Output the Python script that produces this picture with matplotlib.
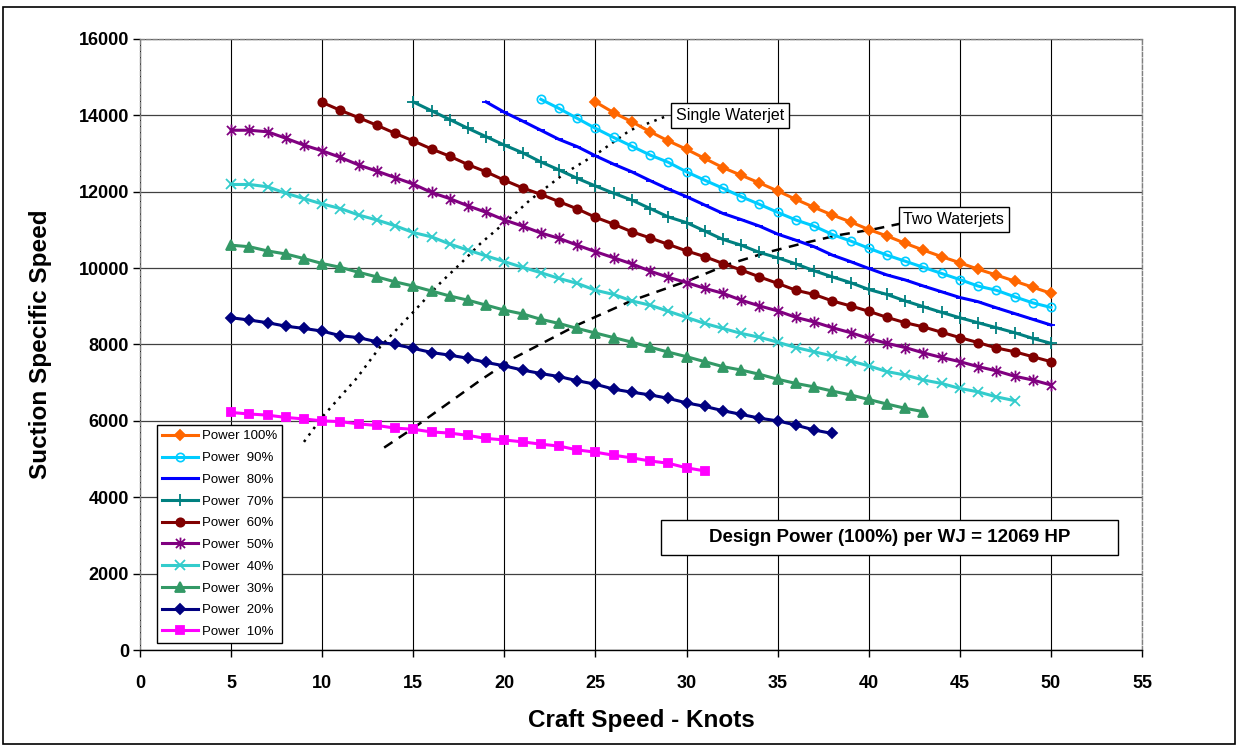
import matplotlib
matplotlib.use('Agg')
import matplotlib.pyplot as plt
from matplotlib.patches import Rectangle
from matplotlib.path import Path

plt.rcParams['font.family'] = ['Liberation Sans', 'DejaVu Sans']

# Datos: velocidad (nudos) y velocidad especifica de succion
knots_100 = list(range(25, 51))
power_100 = [14350, 14070, 13830, 13570, 13330, 13110, 12870, 12630, 12430, 12230,
             12020, 11800, 11590, 11390, 11210, 11010, 10840, 10650, 10470, 10300,
             10140, 9970, 9820, 9660, 9500, 9340]

knots_90 = list(range(22, 51))
power_90 = [14420, 14180, 13920, 13660, 13420, 13190, 12960, 12770, 12520, 12300,
            12090, 11870, 11670, 11460, 11260, 11100, 10880, 10710, 10520, 10340,
            10180, 10020, 9860, 9700, 9530, 9420, 9250, 9090, 8970]

knots_80 = list(range(19, 51))
power_80 = [14350, 14080, 13850, 13610, 13370, 13180, 12940, 12720, 12520, 12290,
            12070, 11870, 11650, 11430, 11270, 11100, 10890, 10730, 10560, 10340,
            10170, 9990, 9820, 9690, 9530, 9380, 9230, 9120, 8960, 8810, 8660, 8510]

knots_70 = list(range(15, 51))
power_70 = [14350, 14120, 13890, 13660, 13440, 13220, 13020, 12780, 12570, 12350,
            12150, 11960, 11780, 11560, 11340, 11190, 10970, 10750, 10600, 10410,
            10270, 10110, 9930, 9770, 9620, 9440, 9310, 9140, 8990, 8840, 8700,
            8570, 8440, 8310, 8160, 8030]

knots_60 = list(range(10, 51))
power_60 = [14340, 14130, 13940, 13740, 13530, 13330, 13120, 12930, 12710, 12520,
            12300, 12100, 11930, 11740, 11550, 11330, 11150, 10950, 10790, 10620,
            10450, 10300, 10120, 9950, 9770, 9600, 9420, 9310, 9140, 9010, 8870,
            8710, 8570, 8460, 8320, 8180, 8050, 7910, 7810, 7680, 7550]

knots_50 = list(range(5, 51))
power_50 = [13610, 13610, 13570, 13400, 13220, 13070, 12900, 12700, 12540, 12370,
            12200, 11980, 11820, 11630, 11460, 11260, 11100, 10920, 10780, 10600,
            10430, 10270, 10110, 9920, 9760, 9620, 9470, 9340, 9160, 9010, 8880,
            8710, 8590, 8440, 8310, 8160, 8030, 7920, 7780, 7660, 7550, 7420,
            7310, 7170, 7070, 6940]

knots_40 = list(range(5, 49))
power_40 = [12190, 12190, 12130, 11960, 11820, 11680, 11560, 11390, 11260, 11110,
            10930, 10820, 10630, 10470, 10320, 10170, 10020, 9880, 9730, 9600,
            9420, 9310, 9140, 9030, 8870, 8710, 8550, 8420, 8290, 8190, 8060,
            7920, 7810, 7700, 7570, 7440, 7290, 7200, 7070, 6980, 6850, 6760,
            6630, 6530]

knots_30 = list(range(5, 44))
power_30 = [10600, 10560, 10450, 10370, 10250, 10120, 10020, 9890, 9770, 9640,
            9530, 9400, 9270, 9160, 9030, 8900, 8800, 8660, 8550, 8420, 8300,
            8180, 8060, 7930, 7800, 7680, 7550, 7420, 7330, 7220, 7090, 6980,
            6890, 6780, 6680, 6560, 6440, 6330, 6240]

knots_20 = list(range(5, 39))
power_20 = [8700, 8640, 8570, 8480, 8420, 8350, 8230, 8180, 8070, 8000, 7900,
            7790, 7720, 7640, 7530, 7440, 7330, 7240, 7160, 7050, 6960, 6830,
            6750, 6680, 6590, 6470, 6380, 6265, 6170, 6070, 6000, 5890, 5760, 5670]

knots_10 = list(range(5, 32))
power_10 = [6220, 6180, 6150, 6090, 6050, 6000, 5980, 5920, 5880, 5810, 5780,
            5710, 5680, 5620, 5540, 5500, 5450, 5390, 5340, 5240, 5180, 5100,
            5030, 4950, 4890, 4770, 4690]

# Curvas de limite (una y dos bombas)
single_x = [9.0, 10.0, 11.9, 13.2, 15.0, 16.5, 17.6, 18.7, 20.2, 21.4, 23.3, 25.1, 26.9, 28.9]
single_y = [5450, 6100, 7120, 7950, 8850, 9620, 10120, 10650, 11260, 11780, 12480, 13000, 13610, 13980]

two_x = [13.4, 15.0, 18.7, 20.5, 24.0, 27.0, 30.2, 32.3, 34.4, 36.4, 38.3, 40.3, 41.8]
two_y = [5300, 5810, 7070, 7640, 8510, 9150, 9690, 10100, 10410, 10650, 10860, 11020, 11170]

# Marcador estrella tipo Excel (X con barra vertical)
star = Path([(-1, -1), (1, 1), (-1, 1), (1, -1), (0, -1.3), (0, 1.3)],
            [Path.MOVETO, Path.LINETO, Path.MOVETO, Path.LINETO, Path.MOVETO, Path.LINETO])

series = [
    ('Power 100%', knots_100, power_100, '#FF6600', 'D', 5.5, True),
    ('Power  90%', knots_90, power_90, '#00CCFF', 'o', 6, False),
    ('Power  80%', knots_80, power_80, '#0000FF', '_', 6, True),
    ('Power  70%', knots_70, power_70, '#008080', '+', 8, True),
    ('Power  60%', knots_60, power_60, '#800000', 'o', 6, True),
    ('Power  50%', knots_50, power_50, '#800080', star, 8.5, True),
    ('Power  40%', knots_40, power_40, '#33CCCC', 'x', 7, True),
    ('Power  30%', knots_30, power_30, '#339966', '^', 7, True),
    ('Power  20%', knots_20, power_20, '#000080', 'D', 5.5, True),
    ('Power  10%', knots_10, power_10, '#FF00FF', 's', 6, True),
]

fig = plt.figure(figsize=(12.38, 7.45), dpi=100)
ax = fig.add_axes([0.1131, 0.1275, 0.8094, 0.8202])

for name, xs, ys, col, mk, ms, filled in series:
    ax.plot(xs, ys, color=col, lw=2.2, marker=mk, markersize=ms,
            markerfacecolor=col if filled else 'none', markeredgecolor=col,
            markeredgewidth=1.3 if filled else 1.2, label=name, zorder=3)

ax.plot(single_x, single_y, color='black', ls=(0, (1, 2.2)), lw=1.8, zorder=2)
ax.plot(two_x, two_y, color='black', ls=(0, (4, 3)), lw=1.8, zorder=2)

ax.set_xlim(0, 55)
ax.set_ylim(0, 16000)
ax.set_xticks(range(0, 56, 5))
ax.set_yticks(range(0, 16001, 2000))
ax.grid(True, axis='y', color='#404040', lw=0.9)
ax.grid(True, axis='x', color='black', lw=0.8)
ax.set_axisbelow(True)

for s in ['left', 'top', 'right']:
    ax.spines[s].set_color('#808080')
    ax.spines[s].set_linestyle((0, (3, 1.5)))
    ax.spines[s].set_linewidth(1.0)
ax.spines['bottom'].set_color('black')
ax.spines['bottom'].set_linewidth(1.0)

ax.tick_params(axis='both', direction='out', length=5, width=1, labelsize=13)
ax.tick_params(axis='x', pad=13)
ax.tick_params(axis='y', pad=3)
for lab in ax.get_xticklabels() + ax.get_yticklabels():
    lab.set_fontweight('bold')

ax.set_xlabel('Craft Speed - Knots', fontsize=17.5, fontweight='bold', labelpad=12)
ax.set_ylabel('Suction Specific Speed', fontsize=17.5, fontweight='bold', labelpad=19)

ax.text(29.4, 14000, 'Single Waterjet', fontsize=11.5, ha='left', va='center',
        bbox=dict(boxstyle='square,pad=0.3', fc='white', ec='black', lw=1), zorder=5)
ax.text(41.9, 11280, 'Two Waterjets', fontsize=11.5, ha='left', va='center',
        bbox=dict(boxstyle='square,pad=0.3', fc='white', ec='black', lw=1), zorder=5)

ax.add_patch(Rectangle((0.5200, 0.155), 0.4561, 0.057, transform=ax.transAxes,
                       fc='white', ec='black', lw=1, zorder=5))
ax.text(0.748, 0.1835, 'Design Power (100%) per WJ = 12069 HP', transform=ax.transAxes,
        fontsize=13.5, fontweight='bold', ha='center', va='center', zorder=6)

leg = ax.legend(loc='lower left', bbox_to_anchor=(0.017, 0.011), fontsize=9.5,
                frameon=True, fancybox=False, edgecolor='black', framealpha=1,
                handlelength=2.7, handletextpad=0.3, labelspacing=0.72,
                borderpad=0.4, borderaxespad=0)
leg.get_frame().set_linewidth(1.0)

fig.patches.append(Rectangle((0.0025, 0.001), 0.995, 0.9893, transform=fig.transFigure,
                             fill=False, ec='black', lw=1.2))

plt.savefig('out.png', dpi=100)
